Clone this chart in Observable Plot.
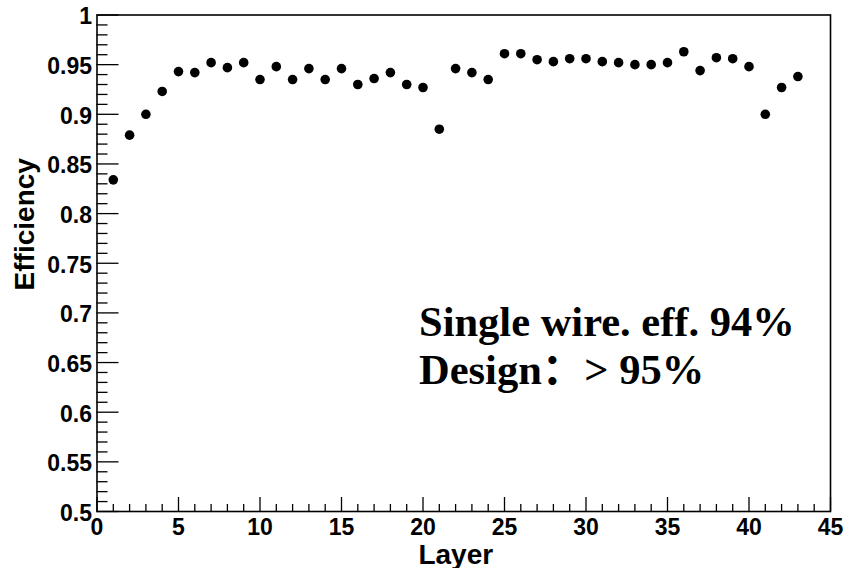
<!DOCTYPE html>
<html>
<head>
<meta charset="utf-8">
<script src="https://cdn.jsdelivr.net/npm/d3@7"></script>
<script src="https://cdn.jsdelivr.net/npm/@observablehq/plot@0.6"></script>
<style>
  html, body { margin: 0; padding: 0; background: #fff; }
  #chart svg { display: block; }
</style>
</head>
<body>
<div id="chart"></div>
<script>
// ---- data ----
const layers = [1,2,3,4,5,6,7,8,9,10,11,12,13,14,15,16,17,18,19,20,21,22,23,24,25,26,27,28,29,30,31,32,33,34,35,36,37,38,39,40,41,42,43];
const efficiency = [0.834,0.879,0.900,0.923,0.943,0.942,0.952,0.947,0.952,0.935,
                    0.948,0.935,0.946,0.935,0.946,0.930,0.936,0.942,0.930,0.927,
                    0.885,0.946,0.942,0.935,0.961,0.961,0.955,0.953,0.956,0.956,
                    0.953,0.952,0.950,0.950,0.952,0.963,0.944,0.957,0.956,0.948,
                    0.900,0.927,0.938];
const xMajorTicks = [0,5,10,15,20,25,30,35,40,45];
const xMinorTicks = d3.range(0, 46, 1).filter(d => d % 5 !== 0);
const yMajorTicks = [0.5,0.55,0.6,0.65,0.7,0.75,0.8,0.85,0.9,0.95,1];
const yMinorTicks = d3.range(50, 101, 1).filter(d => d % 5 !== 0).map(d => d / 100);
const xTitle = "Layer";
const yTitle = "Efficiency";
const noteLine1 = "Single wire. eff. 94%";
const noteLine2 = "Design：> 95%";

const data = layers.map((l, i) => ({layer: l, eff: efficiency[i]}));

// ---- layout ----
const W = 844, H = 568;
const mL = 96.5, mR = 14, mT = 14.5, mB = 57;
const innerW = W - mL - mR, innerH = H - mT - mB;
const sans = "'Liberation Sans', Arial, Helvetica, sans-serif";
const serif = "'Liberation Serif', 'Times New Roman', 'Noto Sans CJK SC', serif";

const chart = Plot.plot({
  width: W, height: H,
  marginLeft: mL, marginRight: mR, marginTop: mT, marginBottom: mB,
  style: {background: "#fff", color: "#000", overflow: "visible"},
  x: {domain: [0, 45]},
  y: {domain: [0.5, 1]},
  marks: [
    // ticks (inside frame)
    Plot.ruleX(xMajorTicks, {x: d => d, stroke: "#000", strokeWidth: 1.3, insetTop: innerH - 14}),
    Plot.ruleX(xMinorTicks, {x: d => d, stroke: "#000", strokeWidth: 1.3, insetTop: innerH - 7}),
    Plot.ruleY(yMajorTicks, {y: d => d, stroke: "#000", strokeWidth: 1.3, insetRight: innerW - 22}),
    Plot.ruleY(yMinorTicks, {y: d => d, stroke: "#000", strokeWidth: 1.3, insetRight: innerW - 11}),
    Plot.frame({stroke: "#000", strokeWidth: 1.6}),
    // tick labels
    Plot.axisX({ticks: xMajorTicks, tickSize: 0, tickPadding: 7, tickFormat: d => String(d),
                fontSize: 23, fontWeight: "bold", fontFamily: sans, label: null}),
    Plot.axisY({ticks: yMajorTicks, tickSize: 0, tickPadding: 5, tickFormat: d => String(d),
                fontSize: 23, fontWeight: "bold", fontFamily: sans, label: null, dy: 2}),
    // axis titles
    Plot.text([xTitle], {frameAnchor: "bottom", text: d => d, dx: -8, dy: 52, lineAnchor: "bottom",
                fontSize: 28, fontWeight: "bold", fontFamily: sans, fill: "#000"}),
    Plot.text([yTitle], {frameAnchor: "left", text: d => d, rotate: -90, dx: -63.5, dy: -39, lineAnchor: "bottom",
                textAnchor: "middle", fontSize: 28, fontWeight: "bold", fontFamily: sans, fill: "#000"}),
    // data
    Plot.dot(data, {x: "layer", y: "eff", r: 4.8, fill: "#000", stroke: "none"}),
    // annotation
    Plot.text([noteLine1], {frameAnchor: "top-left", text: d => d, dx: 322, dy: 320.5, lineAnchor: "bottom",
                textAnchor: "start", fontSize: 42.5, fontWeight: "bold", fontFamily: serif, fill: "#000"}),
    Plot.text([noteLine2], {frameAnchor: "top-left", text: d => d, dx: 322, dy: 368.5, lineAnchor: "bottom",
                textAnchor: "start", fontSize: 42.5, fontWeight: "bold", fontFamily: serif, fill: "#000"})
  ]
});
document.getElementById("chart").appendChild(chart);
</script>
</body>
</html>
